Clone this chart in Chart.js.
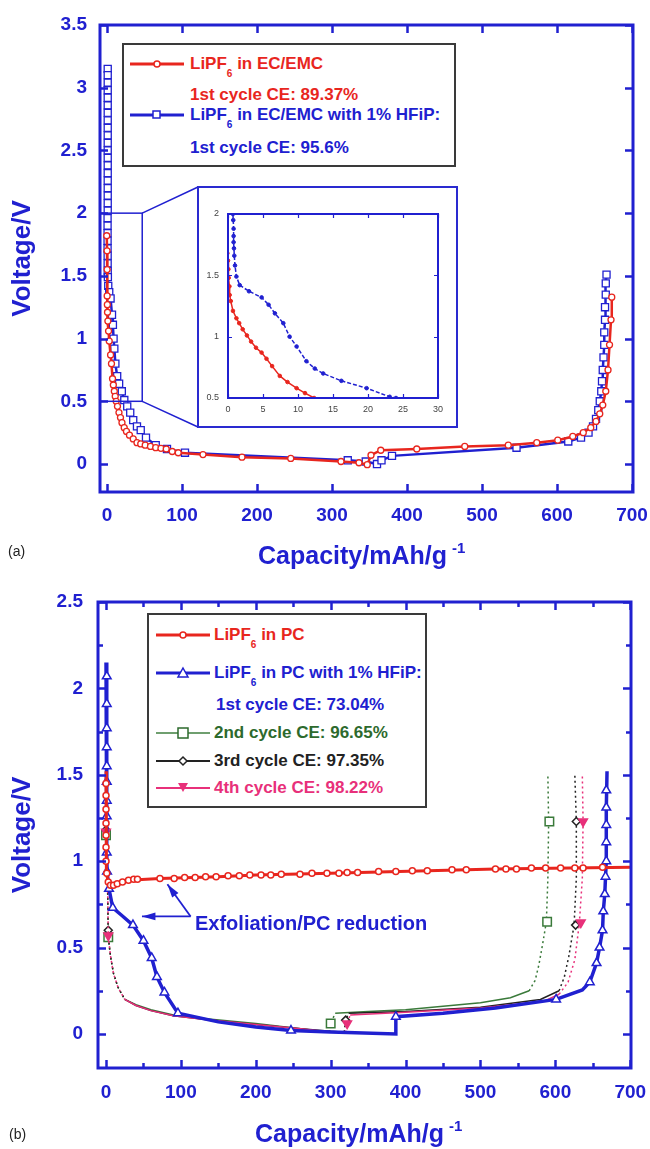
<!DOCTYPE html>
<html>
<head>
<meta charset="utf-8">
<script src="https://cdn.jsdelivr.net/npm/chart.js@4.4.1/dist/chart.umd.min.js"></script>
<style>
body { margin: 0; background: #fff; width: 650px; height: 1149px; position: relative; overflow: hidden;
       font-family: "Liberation Sans", Arial, sans-serif; }
canvas { position: absolute; }
.box { position: absolute; background: #fff; border: 2px solid #3a3a3a; box-sizing: border-box; }
.row { position: absolute; font-weight: bold; font-size: 17px; line-height: 20px; white-space: nowrap; }
.row sub { font-size: 10px; vertical-align: -8px; line-height: 0; }
.sym { position: absolute; }
.xt { position: absolute; font-weight: bold; font-size: 25px; line-height: 30px; color: #2020d0; white-space: nowrap; }
.xt sup { font-size: 15px; vertical-align: 11px; line-height: 0; margin-left: 5px; }
.tag { position: absolute; font-size: 14px; color: #222; }
.note { position: absolute; font-weight: bold; font-size: 20px; color: #2020d0; white-space: nowrap; line-height: 24px; }
</style>
</head>
<body>

<canvas id="chartA" width="650" height="560" style="left:0;top:0"></canvas>
<div class="box" style="left:197px;top:186px;width:261px;height:242px;border-color:#2a2ad0"></div>
<canvas id="chartInset" width="257" height="238" style="left:199px;top:188px"></canvas>
<canvas id="chartB" width="650" height="579" style="left:0;top:570px"></canvas>

<!-- legend (a) -->
<div class="box" style="left:122px;top:43px;width:334px;height:124px"></div>
<svg class="sym" style="left:130px;top:57px" width="56" height="14"><line x1="0" y1="7" x2="54" y2="7" stroke="#e8261e" stroke-width="3"/><circle cx="27" cy="7" r="3" fill="#fff" stroke="#e8261e" stroke-width="1.5"/></svg>
<div class="row" style="left:190px;top:54px;color:#e8261e">LiPF<sub>6</sub> in EC/EMC</div>
<div class="row" style="left:190px;top:85px;color:#e8261e">1st cycle CE: 89.37%</div>
<svg class="sym" style="left:130px;top:108px" width="56" height="14"><line x1="0" y1="7" x2="54" y2="7" stroke="#2020d0" stroke-width="3"/><rect x="23" y="3" width="7" height="7" fill="#fff" stroke="#2020d0" stroke-width="1.5"/></svg>
<div class="row" style="left:190px;top:105px;color:#2020d0">LiPF<sub>6</sub> in EC/EMC with 1% HFiP:</div>
<div class="row" style="left:190px;top:138px;color:#2020d0">1st cycle CE: 95.6%</div>

<!-- legend (b) -->
<div class="box" style="left:147px;top:613px;width:280px;height:195px"></div>
<svg class="sym" style="left:156px;top:628px" width="56" height="14"><line x1="0" y1="7" x2="54" y2="7" stroke="#e8261e" stroke-width="3"/><circle cx="27" cy="7" r="3" fill="#fff" stroke="#e8261e" stroke-width="1.5"/></svg>
<div class="row" style="left:214px;top:625px;color:#e8261e">LiPF<sub>6</sub> in PC</div>
<svg class="sym" style="left:156px;top:666px" width="56" height="14"><line x1="0" y1="7" x2="54" y2="7" stroke="#2020d0" stroke-width="3"/><polygon points="27,2 32,11 22,11" fill="#fff" stroke="#2020d0" stroke-width="1.5"/></svg>
<div class="row" style="left:214px;top:663px;color:#2020d0">LiPF<sub>6</sub> in PC with 1% HFiP:</div>
<div class="row" style="left:216px;top:695px;color:#2020d0">1st cycle CE: 73.04%</div>
<svg class="sym" style="left:156px;top:726px" width="56" height="14"><line x1="0" y1="7" x2="54" y2="7" stroke="#6f9f6f" stroke-width="2"/><rect x="22" y="2" width="10" height="10" fill="#fff" stroke="#2d6a2d" stroke-width="1.5"/></svg>
<div class="row" style="left:214px;top:723px;color:#2d6a2d">2nd cycle CE: 96.65%</div>
<svg class="sym" style="left:156px;top:754px" width="56" height="14"><line x1="0" y1="7" x2="54" y2="7" stroke="#222" stroke-width="2"/><polygon points="27,3 31,7 27,11 23,7" fill="#fff" stroke="#222" stroke-width="1.5"/></svg>
<div class="row" style="left:214px;top:751px;color:#222">3rd cycle CE: 97.35%</div>
<svg class="sym" style="left:156px;top:781px" width="56" height="14"><line x1="0" y1="7" x2="54" y2="7" stroke="#e8307a" stroke-width="2"/><polygon points="22,2 32,2 27,11" fill="#e8307a"/></svg>
<div class="row" style="left:214px;top:778px;color:#e8307a">4th cycle CE: 98.22%</div>

<div class="note" style="left:195px;top:911px">Exfoliation/PC reduction</div>

<div class="xt" style="left:258px;top:540px">Capacity/mAh/g<sup>-1</sup></div>
<div class="xt" style="left:255px;top:1118px">Capacity/mAh/g<sup>-1</sup></div>
<div class="tag" style="left:8px;top:543px">(a)</div>
<div class="tag" style="left:9px;top:1126px">(b)</div>

<script>
// colours
const BLUE = '#2020d0';
const RED = '#e8261e';
const GREEN = '#3a7a3a';
const BLACK = '#222222';
const PINK = '#e8307a';
const FONT = '"Liberation Sans", Arial, sans-serif';

// ---------- panel (a): LiPF6 in EC/EMC, capacity (mAh/g) vs voltage (V)
const aXTicks = [0, 100, 200, 300, 400, 500, 600, 700];
const aYTicks = [0, 0.5, 1, 1.5, 2, 2.5, 3, 3.5];
const aRed = [[-0.3,1.82],[0.1,1.7],[0.2,1.55],[0.24,1.34],[0.5,1.27],[0.71,1.21],[1.2,1.14],[2.1,1.06],
  [3,0.98],[4.8,0.87],[6,0.8],[7.4,0.68],[8.5,0.63],[9.8,0.58],[11,0.54],[12.3,0.5],[14,0.46],[16,0.41],
  [18,0.37],[20,0.33],[23,0.29],[26,0.26],[30,0.23],[35,0.2],[40,0.17],[45,0.16],[51,0.15],[58,0.14],
  [65,0.13],[72,0.125],[79,0.12],[87,0.1],[95,0.09],[128,0.075],[180,0.055],[245,0.045],[312,0.02],
  [336,0.01],[347,-0.005],[352,0.07],[365,0.11],[413,0.12],[477,0.14],[535,0.15],[573,0.17],[601,0.19],
  [621,0.22],[635,0.25],[645,0.29],[652,0.34],[657,0.4],[661,0.47],[665,0.58],[668,0.75],[670,0.95],
  [672,1.15],[673,1.33]];
const aBlue = [[1,3.15],[1,3.1],[1,3.04],[1,2.98],[1,2.92],[1,2.86],[1,2.8],[1,2.74],[1,2.68],[1,2.62],
  [1,2.56],[1,2.5],[1,2.44],[1,2.38],[1,2.32],[1,2.26],[1,2.2],[1,2.14],[1,2.08],[1,2.02],[0.8,1.96],
  [0.8,1.9],[0.8,1.84],[0.8,1.78],[0.8,1.72],[0.9,1.66],[0.9,1.6],[1,1.54],[1.2,1.49],[1.7,1.42],[3,1.37],
  [4.8,1.32],[6.7,1.19],[7.9,1.11],[8.8,1.0],[9.8,0.92],[11.2,0.8],[13.6,0.7],[16.2,0.64],[19.8,0.58],
  [23.1,0.51],[27,0.46],[31,0.41],[35,0.35],[40,0.3],[45,0.27],[52,0.21],[65,0.15],[80,0.12],[104,0.09],
  [321,0.03],[345,0.02],[360,0.0],[366,0.03],[380,0.065],[546,0.13],[615,0.18],[632,0.21],[642,0.25],
  [648,0.3],[652,0.36],[655,0.43],[657,0.5],[659,0.58],[660,0.66],[661,0.75],[662,0.85],[663,0.95],
  [663,1.05],[664,1.15],[664,1.25],[665,1.35],[665,1.44],[666,1.51]];
// zoomed region shown in the inset
const aZoomX = [-9.3, 47];
const aZoomY = [0.5, 2];

// ---------- inset of (a)
const iXTicks = [0, 5, 10, 15, 20, 25, 30];
const iYTicks = [0.5, 1, 1.5, 2];
const iRed = [[-0.3,1.82],[-0.2,1.75],[-0.1,1.68],[0,1.62],[0.05,1.55],[0.1,1.48],[0.2,1.41],[0.24,1.34],
  [0.4,1.29],[0.71,1.21],[1.2,1.15],[1.6,1.11],[2.1,1.06],[2.7,1.01],[3.3,0.96],[4,0.91],[4.8,0.87],
  [5.5,0.82],[6.3,0.76],[7.4,0.68],[8.5,0.63],[9.8,0.58],[11,0.54],[12.3,0.5],[12.8,0.48]];
const iBlue = [[0.7,2.0],[0.75,1.95],[0.8,1.88],[0.8,1.82],[0.8,1.77],[0.85,1.72],[0.9,1.66],[1,1.58],
  [1.2,1.49],[1.67,1.42],[3,1.37],[4.8,1.32],[5.8,1.26],[6.7,1.19],[7.9,1.11],[8.8,1.0],[9.8,0.92],
  [11.2,0.8],[12.4,0.74],[13.6,0.7],[16.2,0.64],[19.8,0.58],[23.1,0.51],[24,0.5]];

// ---------- panel (b): LiPF6 in PC
const bXTicks = [0, 100, 200, 300, 400, 500, 600, 700];
const bXMinor = [50, 150, 250, 350, 450, 550, 650];
const bYTicks = [0, 0.5, 1, 1.5, 2, 2.5];
const bYMinor = [0.25, 0.75, 1.25, 1.75, 2.25];
const bRedLine = [[0,1.52],[0,1.1],[1,0.93],[3,0.88],[6,0.86],[10,0.86],[15,0.87],[22,0.88],[30,0.89],
  [72,0.9],[150,0.91],[200,0.92],[300,0.93],[430,0.945],[520,0.955],[620,0.96],[705,0.965]];
const bRedMarks = [[0,1.45],[0,1.38],[0,1.3],[0,1.22],[0,1.15],[0,1.08],[0,1.0],[1,0.93],[3,0.88],
  [6,0.86],[10,0.86],[15,0.87],[22,0.88],[30,0.89],[37,0.895],[42,0.895],[72,0.9],[91,0.9],[105,0.905],
  [119,0.905],[133,0.91],[147,0.91],[163,0.915],[178,0.915],[192,0.92],[207,0.92],[220,0.92],[234,0.925],
  [259,0.925],[275,0.93],[295,0.93],[311,0.93],[322,0.935],[336,0.935],[364,0.94],[387,0.94],[409,0.945],
  [429,0.945],[462,0.95],[481,0.95],[520,0.955],[534,0.955],[548,0.955],[568,0.96],[587,0.96],[607,0.96],
  [626,0.96],[637,0.96],[663,0.965]];
const bBlueLine = [[0,2.15],[1,2.07],[1,1.05],[1.4,0.94],[4,0.84],[9,0.73],[20,0.69],[36,0.63],[50,0.54],
  [61,0.44],[68,0.33],[78,0.24],[96,0.12],[150,0.07],[200,0.04],[247,0.02],[300,0.012],[387,0.0],
  [387,0.1],[450,0.12],[520,0.15],[601,0.2],[636,0.255],[646,0.3],[655,0.41],[659,0.5],[663,0.6],
  [664,0.71],[666,0.81],[667,0.91],[668,1.0],[668,1.3],[669,1.52]];
const bBlueMarks = [[1,2.07],[1,1.91],[1,1.77],[1,1.66],[1,1.55],[1,1.46],[1,1.35],[1,1.26],[1,1.05],
  [1.4,0.94],[4,0.84],[9,0.73],[36,0.63],[50,0.54],[61,0.44],[68,0.33],[78,0.24],[96,0.12],[247,0.02],
  [387,0.1],[601,0.2],[646,0.3],[655,0.41],[659,0.5],[663,0.6],[664,0.71],[666,0.81],[667,0.91],
  [668,1.0],[668,1.11],[668,1.21],[668,1.31],[668,1.41]];
const bC2Line = [[0,1.2],[1,1.16],[2,0.9],[3,0.56],[6,0.45],[10,0.35],[16,0.27],[25,0.2],[40,0.17],
  [60,0.14],[90,0.11],[130,0.09],[200,0.06],[260,0.03],[298,0.01],[300,0.06],[306,0.12],[350,0.13],
  [400,0.14],[450,0.16],[500,0.18],[540,0.21],[565,0.25],[573,0.31],[578,0.4],[583,0.52],[588,0.65],
  [590,0.9],[591,1.22],[590,1.5]];
const bC2Marks = [[0,1.15],[3,0.56],[300,0.06],[589,0.65],[592,1.23]];
const bC3Line = [[0,1.2],[1,1.16],[2,0.9],[3,0.56],[6,0.45],[10,0.35],[16,0.27],[25,0.2],[40,0.165],
  [60,0.135],[90,0.105],[130,0.085],[200,0.055],[260,0.03],[300,0.015],[318,0.01],[320,0.08],[324,0.12],
  [400,0.13],[500,0.155],[580,0.2],[605,0.25],[612,0.33],[618,0.45],[625,0.63],[628,0.9],[628,1.23],[626,1.5]];
const bC3Marks = [[0,1.18],[3,0.6],[320,0.08],[627,0.63],[628,1.23]];
const bC4Line = [[0,1.2],[1,1.17],[2,0.9],[3,0.57],[6,0.45],[10,0.35],[16,0.27],[25,0.2],[40,0.165],
  [60,0.135],[90,0.105],[130,0.085],[200,0.055],[260,0.03],[300,0.012],[320,0.008],[322,0.06],[326,0.11],
  [400,0.125],[500,0.15],[585,0.19],[605,0.23],[617,0.3],[626,0.43],[632,0.64],[636,0.9],[637,1.23],[636,1.5]];
const bC4Marks = [[0,1.17],[3,0.57],[322,0.06],[634,0.645],[637,1.23]];
// arrows of the "Exfoliation/PC reduction" note
const bArrowFrom = [113, 0.68];
const bArrowTo = [[48, 0.68], [82, 0.866]];

const pts = arr => arr.map(p => ({ x: p[0], y: p[1] }));

// dotted where the curve is steep (cycles 2-4)
const steepDash = ctx => {
  const a = ctx.p0.parsed, b = ctx.p1.parsed;
  return Math.abs(b.y - a.y) > 0.004 * Math.abs(b.x - a.x) ? [2, 3] : undefined;
};

function lineSet(data, color, width, extra) {
  return Object.assign({ data: pts(data), showLine: true, borderColor: color, borderWidth: width,
    pointRadius: 0, fill: false, tension: 0 }, extra || {});
}
function markSet(data, color, style, radius, extra) {
  return Object.assign({ data: pts(data), showLine: false, pointStyle: style, pointRadius: radius,
    pointBorderColor: color, pointBackgroundColor: '#fff', pointBorderWidth: 1.5 }, extra || {});
}

// frame with inward ticks on all four sides
function framePlugin(o) {
  return {
    id: 'frame',
    afterDatasetsDraw(chart) {
      const { ctx, chartArea: a } = chart;
      const sx = chart.scales.x, sy = chart.scales.y;
      ctx.save();
      ctx.strokeStyle = BLUE;
      ctx.lineWidth = o.tickWidth;
      ctx.beginPath();
      const xt = (vals, len) => vals.forEach(v => {
        const p = Math.round(sx.getPixelForValue(v)) + 0.5;
        ctx.moveTo(p, a.bottom); ctx.lineTo(p, a.bottom - len);
        ctx.moveTo(p, a.top); ctx.lineTo(p, a.top + len);
      });
      const yt = (vals, len) => vals.forEach(v => {
        const p = Math.round(sy.getPixelForValue(v)) + 0.5;
        ctx.moveTo(a.left, p); ctx.lineTo(a.left + len, p);
        ctx.moveTo(a.right, p); ctx.lineTo(a.right - len, p);
      });
      xt(o.xTicks, o.major); xt(o.xMinor || [], o.minor);
      yt(o.yTicks, o.major); yt(o.yMinor || [], o.minor);
      ctx.stroke();
      ctx.lineWidth = o.frameWidth;
      ctx.strokeRect(a.left, a.top, a.right - a.left, a.bottom - a.top);
      ctx.restore();
    }
  };
}

function makeChart(id, datasets, o, extraPlugins) {
  const tickFont = { family: FONT, size: o.fontSize, weight: o.bold ? 'bold' : 'normal' };
  return new Chart(document.getElementById(id), {
    type: 'scatter',
    data: { datasets },
    options: {
      responsive: false, animation: false, devicePixelRatio: 1,
      layout: { padding: { top: o.padTop, right: o.padRight, left: 0, bottom: 0 } },
      plugins: { legend: { display: false }, tooltip: { enabled: false } },
      scales: {
        x: {
          type: 'linear', min: o.xMin, max: o.xMax,
          grid: { display: false, drawTicks: false }, border: { display: false },
          afterBuildTicks: s => { s.ticks = o.xTicks.map(v => ({ value: v })); },
          afterFit: s => { s.height = o.xH; s.paddingLeft = 0; s.paddingRight = 0; },
          ticks: { color: o.tickColor, font: tickFont, padding: o.xPad, maxRotation: 0, autoSkip: false,
                   callback: v => String(v) }
        },
        y: {
          type: 'linear', min: o.yMin, max: o.yMax,
          grid: { display: false, drawTicks: false }, border: { display: false },
          afterBuildTicks: s => { s.ticks = o.yTicks.map(v => ({ value: v })); },
          afterFit: s => { s.width = o.yW; s.paddingTop = 0; s.paddingBottom = 0; },
          ticks: { color: o.tickColor, font: tickFont, padding: o.yPad, autoSkip: false,
                   callback: v => String(v) },
          title: o.yTitle ? { display: true, text: o.yTitle, color: BLUE, padding: { top: 7, bottom: 0 },
            font: { family: FONT, size: 26, weight: 'bold' } } : { display: false }
        }
      }
    },
    plugins: [framePlugin(o)].concat(extraPlugins || [])
  });
}

// zoom box + connectors to the inset (page coords == canvas coords for chart A)
const zoomPlugin = {
  id: 'zoombox',
  afterDatasetsDraw(chart) {
    const { ctx } = chart, sx = chart.scales.x, sy = chart.scales.y;
    const x0 = sx.getPixelForValue(aZoomX[0]), x1 = sx.getPixelForValue(aZoomX[1]);
    const yTop = sy.getPixelForValue(aZoomY[1]), yBot = sy.getPixelForValue(aZoomY[0]);
    ctx.save();
    ctx.strokeStyle = BLUE; ctx.lineWidth = 1.5;
    ctx.strokeRect(x0, yTop, x1 - x0, yBot - yTop);
    ctx.beginPath();
    ctx.moveTo(x1, yTop); ctx.lineTo(198, 187);
    ctx.moveTo(x1, yBot); ctx.lineTo(198, 427);
    ctx.stroke();
    ctx.restore();
  }
};

const arrowPlugin = {
  id: 'arrows',
  afterDatasetsDraw(chart) {
    const { ctx } = chart, sx = chart.scales.x, sy = chart.scales.y;
    const fx = sx.getPixelForValue(bArrowFrom[0]), fy = sy.getPixelForValue(bArrowFrom[1]);
    ctx.save();
    ctx.strokeStyle = BLUE; ctx.fillStyle = BLUE; ctx.lineWidth = 1.8;
    bArrowTo.forEach(t => {
      const tx = sx.getPixelForValue(t[0]), ty = sy.getPixelForValue(t[1]);
      const ang = Math.atan2(ty - fy, tx - fx);
      ctx.beginPath(); ctx.moveTo(fx, fy); ctx.lineTo(tx, ty); ctx.stroke();
      ctx.beginPath();
      ctx.moveTo(tx, ty);
      ctx.lineTo(tx - 14 * Math.cos(ang - 0.28), ty - 14 * Math.sin(ang - 0.28));
      ctx.lineTo(tx - 14 * Math.cos(ang + 0.28), ty - 14 * Math.sin(ang + 0.28));
      ctx.closePath(); ctx.fill();
    });
    ctx.restore();
  }
};

// panel (a)
makeChart('chartA', [
  lineSet(aRed, RED, 2.5, { pointRadius: 3, pointStyle: 'circle', pointBorderColor: RED,
    pointBackgroundColor: '#fff', pointBorderWidth: 1.3, order: 0 }),
  lineSet(aBlue, BLUE, 2.5, { pointRadius: 5, pointStyle: 'rect', pointBorderColor: BLUE,
    pointBackgroundColor: '#fff', pointBorderWidth: 1.3, order: 1 })
], {
  xMin: -9.3, xMax: 701.3, yMin: -0.223, yMax: 3.5, xTicks: aXTicks, yTicks: aYTicks,
  padTop: 25, padRight: 17, xH: 68, yW: 100, xPad: 12, yPad: 13,
  fontSize: 19, bold: true, tickColor: BLUE, yTitle: 'Voltage/V',
  major: 8, minor: 5, tickWidth: 2.5, frameWidth: 3
}, [zoomPlugin]);

// inset
makeChart('chartInset', [
  lineSet(iRed, RED, 1.5, { pointRadius: 1.8, pointStyle: 'circle', pointBorderColor: RED,
    pointBackgroundColor: RED, pointBorderWidth: 1 }),
  lineSet(iBlue, BLUE, 1.5, { borderDash: [4, 2], pointRadius: 1.8, pointStyle: 'circle',
    pointBorderColor: BLUE, pointBackgroundColor: BLUE, pointBorderWidth: 1 })
], {
  xMin: 0, xMax: 30, yMin: 0.5, yMax: 2, xTicks: iXTicks, yTicks: iYTicks,
  padTop: 26, padRight: 18, xH: 28, yW: 29, xPad: 6, yPad: 9,
  fontSize: 9, bold: false, tickColor: '#444', yTitle: null,
  major: 4, minor: 2, tickWidth: 1.2, frameWidth: 2
});

// panel (b)
makeChart('chartB', [
  markSet(bRedMarks, RED, 'circle', 3, { order: 0 }),
  lineSet(bRedLine, RED, 3, { order: 1 }),
  markSet(bBlueMarks, BLUE, 'triangle', 5, { order: 2 }),
  lineSet(bBlueLine, BLUE, 3.5, { order: 3 }),
  markSet(bC4Marks, PINK, 'triangle', 5, { rotation: 180, pointBackgroundColor: PINK, order: 4 }),
  lineSet(bC4Line, PINK, 1.5, { segment: { borderDash: steepDash }, order: 5 }),
  markSet(bC3Marks, BLACK, 'rectRot', 4, { order: 6 }),
  lineSet(bC3Line, BLACK, 1.5, { segment: { borderDash: steepDash }, order: 7 }),
  markSet(bC2Marks, GREEN, 'rect', 6, { order: 8 }),
  lineSet(bC2Line, GREEN, 1.5, { segment: { borderDash: steepDash }, order: 9 })
], {
  xMin: -10.7, xMax: 701, yMin: -0.197, yMax: 2.5, xTicks: bXTicks, xMinor: bXMinor,
  yTicks: bYTicks, yMinor: bYMinor,
  padTop: 32, padRight: 19, xH: 81, yW: 98, xPad: 13, yPad: 15,
  fontSize: 19, bold: true, tickColor: BLUE, yTitle: 'Voltage/V',
  major: 8, minor: 5, tickWidth: 2.5, frameWidth: 3
}, [arrowPlugin]);
</script>
</body>
</html>
